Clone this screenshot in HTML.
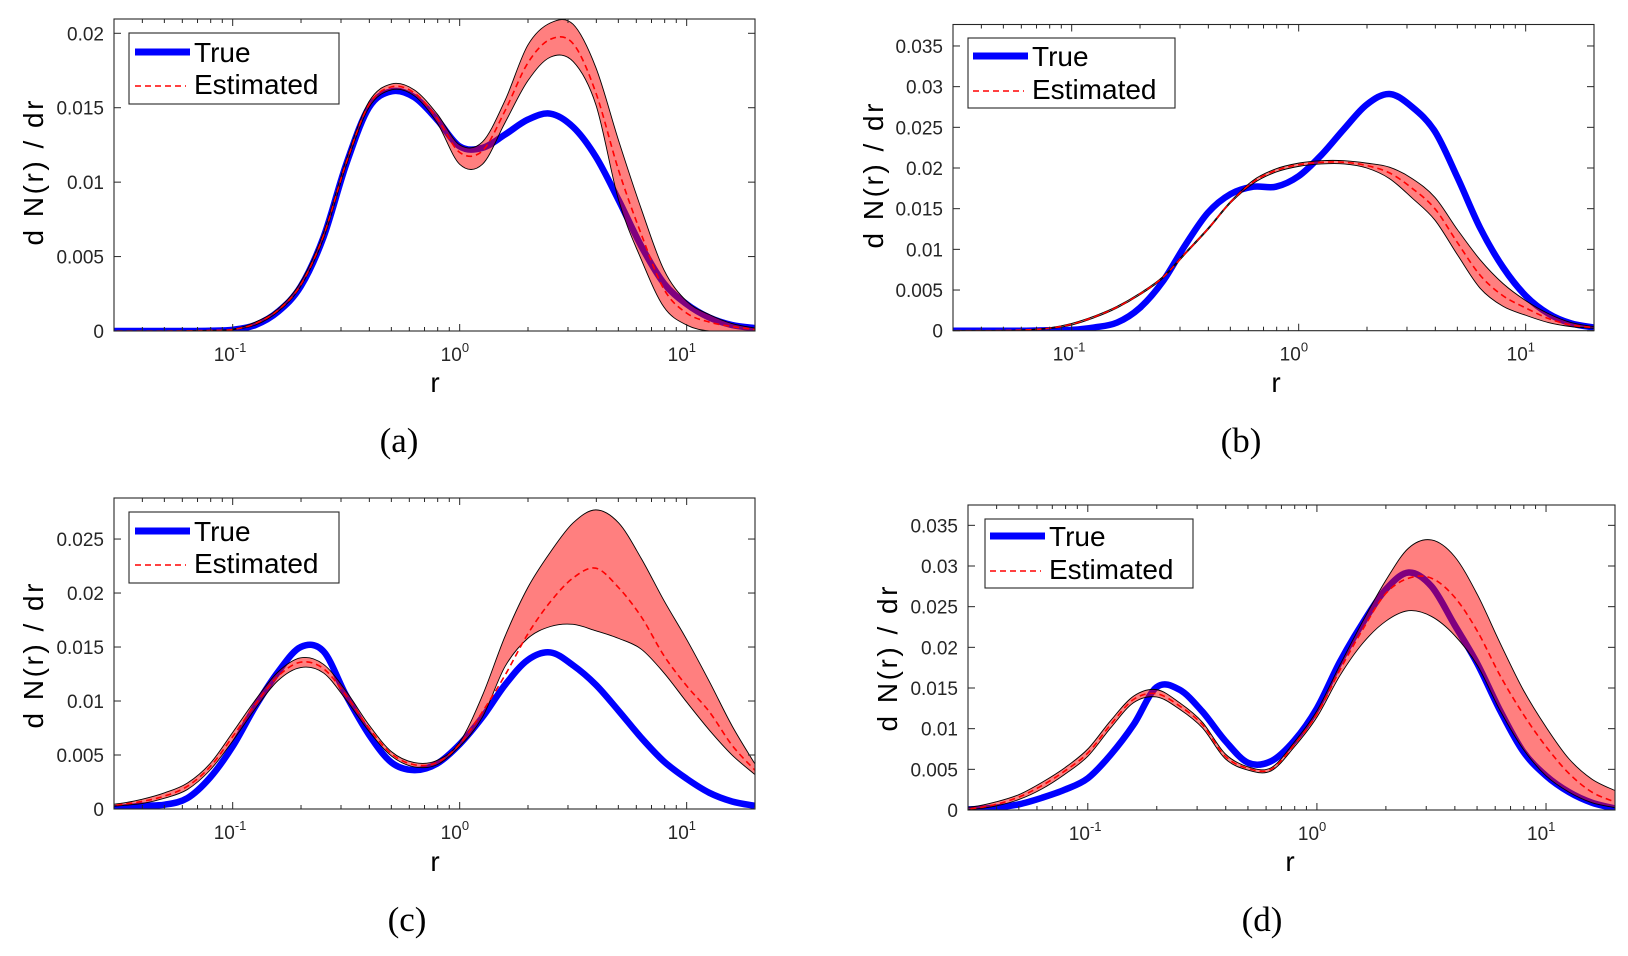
<!DOCTYPE html>
<html><head><meta charset="utf-8"><style>
html,body{margin:0;padding:0;background:#fff;}
svg{display:block;font-family:"Liberation Sans",sans-serif;}
</style></head><body>
<svg id="fig" width="1628" height="956" viewBox="0 0 1628 956" xmlns="http://www.w3.org/2000/svg"></svg>
<script>
// log10(r) sample grid shared by all panels
const logR = [-1.6,-1.5,-1.4,-1.3,-1.2,-1.1,-1.0,-0.9,-0.8,-0.7,-0.6,-0.5,-0.4,-0.3,-0.2,-0.1,0,0.1,0.2,0.3,0.4,0.5,0.6,0.7,0.8,0.9,1.0,1.1,1.2,1.3];
const xTickExp = [-1,0,1];

// panel (a)
const aTrue = [0,0,0,0,0,0.00002,0.00008,0.0004,0.0013,0.003,0.0063,0.0112,0.015,0.0161,0.0157,0.0142,0.0124,0.0123,0.0132,0.0142,0.0146,0.0137,0.0117,0.0088,0.0057,0.0032,0.0018,0.0009,0.0004,0.0002];
const aEst  = [0,0,0,0,0.00001,0.00004,0.0001,0.0005,0.0014,0.0031,0.0064,0.0113,0.0152,0.0164,0.016,0.0143,0.012,0.0121,0.0148,0.018,0.0196,0.0193,0.016,0.0108,0.0065,0.0028,0.0012,0.0006,0.0003,0.0001];
const aHi   = [0,0,0,0,0.00002,0.00005,0.00012,0.0006,0.0015,0.0033,0.0066,0.0115,0.0154,0.0166,0.0162,0.0146,0.0125,0.0127,0.0155,0.0192,0.0207,0.0206,0.0177,0.0128,0.0082,0.0041,0.002,0.0011,0.0005,0.0002];
const aLo   = [0,0,0,0,0,0.00003,0.00008,0.0004,0.0013,0.003,0.0062,0.0111,0.015,0.0162,0.0158,0.014,0.0112,0.0112,0.014,0.0168,0.0184,0.0181,0.0152,0.0088,0.0048,0.0016,0.0004,0,0,0];
const aYTicks = [0,0.005,0.01,0.015,0.02];
const aYLabels = ["0","0.005","0.01","0.015","0.02"];

// panel (b)
const bTrue = [0,0,0,0,0,0.00005,0.0001,0.0004,0.001,0.0028,0.006,0.0105,0.0145,0.0168,0.0177,0.0177,0.019,0.0216,0.0248,0.0278,0.0291,0.0275,0.0245,0.0188,0.0126,0.0078,0.0043,0.0021,0.0009,0.0004];
const bEst  = [0,0,0,0.00003,0.0001,0.0003,0.0008,0.0017,0.0029,0.0045,0.0065,0.0095,0.0125,0.0158,0.0183,0.0197,0.0204,0.0207,0.0207,0.0203,0.0194,0.0175,0.015,0.0108,0.0068,0.0043,0.0028,0.0015,0.0007,0.0004];
const bHi   = [0,0,0,0.00004,0.00012,0.00035,0.0009,0.0018,0.003,0.0046,0.0066,0.0096,0.0126,0.0159,0.0185,0.0199,0.0206,0.0209,0.0209,0.0206,0.0201,0.0187,0.0164,0.0124,0.0087,0.0058,0.0037,0.0021,0.001,0.0005];
const bLo   = [0,0,0,0.00002,0.00008,0.00025,0.0007,0.0016,0.0028,0.0044,0.0064,0.0094,0.0124,0.0157,0.0181,0.0195,0.0202,0.0205,0.0205,0.02,0.0187,0.0163,0.0136,0.0093,0.0052,0.003,0.0019,0.001,0.0005,0.0003];
const bYTicks = [0,0.005,0.01,0.015,0.02,0.025,0.03,0.035];
const bYLabels = ["0","0.005","0.01","0.015","0.02","0.025","0.03","0.035"];

// panel (c)
const cTrue = [0,0.0001,0.0003,0.0004,0.001,0.0029,0.0058,0.0095,0.0127,0.015,0.0146,0.0105,0.0069,0.0043,0.0036,0.0042,0.006,0.0085,0.0115,0.0138,0.0145,0.0133,0.0115,0.0091,0.0066,0.0044,0.0028,0.0015,0.0007,0.0003];
const cEst  = [0.0002,0.0004,0.0007,0.0012,0.0021,0.0039,0.0067,0.0097,0.0123,0.0136,0.013,0.0105,0.0075,0.0051,0.0041,0.0043,0.006,0.009,0.0124,0.0162,0.0192,0.0214,0.0223,0.0205,0.0178,0.0142,0.0114,0.009,0.0059,0.0036];
const cHi   = [0.0003,0.0005,0.0009,0.0015,0.0024,0.0042,0.0071,0.0101,0.0127,0.014,0.0134,0.0109,0.0078,0.0053,0.0043,0.0045,0.0062,0.0105,0.016,0.0205,0.0238,0.0265,0.0277,0.0265,0.0232,0.0193,0.0157,0.0118,0.0077,0.0042];
const cLo   = [0.0001,0.0003,0.0005,0.001,0.0018,0.0036,0.0063,0.0093,0.0119,0.0131,0.0126,0.0101,0.0072,0.0049,0.0039,0.0041,0.0058,0.0085,0.0132,0.0158,0.0169,0.0171,0.0165,0.0158,0.0148,0.0126,0.0099,0.0073,0.005,0.0032];
const cYTicks = [0,0.005,0.01,0.015,0.02,0.025];
const cYLabels = ["0","0.005","0.01","0.015","0.02","0.025"];

// panel (d)
const dTrue = [0,0.0001,0.0003,0.0007,0.0015,0.0025,0.0039,0.0068,0.0105,0.0151,0.0148,0.0121,0.0085,0.0058,0.006,0.0085,0.0125,0.0182,0.023,0.0271,0.0292,0.0275,0.0228,0.018,0.0122,0.0072,0.0042,0.0022,0.0009,0.0002];
const dEst  = [0.0001,0.0002,0.0007,0.0016,0.003,0.0048,0.007,0.0105,0.0136,0.0143,0.0128,0.0105,0.0066,0.0051,0.005,0.008,0.0118,0.0172,0.0222,0.0266,0.0285,0.0285,0.0262,0.022,0.0165,0.0118,0.0078,0.0045,0.0022,0.001];
const dHi   = [0.0002,0.0004,0.001,0.0019,0.0034,0.0052,0.0075,0.011,0.014,0.0148,0.0132,0.0108,0.0069,0.0053,0.0052,0.0083,0.0122,0.0178,0.0232,0.0282,0.0322,0.0332,0.0312,0.0265,0.0205,0.0148,0.0102,0.0063,0.0038,0.0024];
const dLo   = [0,0.0001,0.0005,0.0013,0.0026,0.0044,0.0066,0.0101,0.0132,0.0139,0.0124,0.0101,0.0063,0.0049,0.0048,0.0077,0.0114,0.0165,0.0205,0.0232,0.0245,0.0238,0.0215,0.0178,0.0122,0.0075,0.0042,0.0022,0.0009,0.0003];
const dYTicks = [0,0.005,0.01,0.015,0.02,0.025,0.03,0.035];
const dYLabels = ["0","0.005","0.01","0.015","0.02","0.025","0.03","0.035"];

const NS = "http://www.w3.org/2000/svg";
const svg = document.getElementById("fig");
function mk(tag, attrs, parent){
  const e = document.createElementNS(NS, tag);
  for (const k in attrs) e.setAttribute(k, attrs[k]);
  (parent||svg).appendChild(e);
  return e;
}
function curveSegs(pts){
  let d = "";
  for (let i=0;i<pts.length-1;i++){
    const p0 = pts[i-1]||pts[i], p1 = pts[i], p2 = pts[i+1], p3 = pts[i+2]||p2;
    const c1 = [p1[0]+(p2[0]-p0[0])/6, p1[1]+(p2[1]-p0[1])/6];
    const c2 = [p2[0]-(p3[0]-p1[0])/6, p2[1]-(p3[1]-p1[1])/6];
    d += " C"+c1[0].toFixed(2)+","+c1[1].toFixed(2)+" "+c2[0].toFixed(2)+","+c2[1].toFixed(2)+" "+p2[0].toFixed(2)+","+p2[1].toFixed(2);
  }
  return d;
}
function smooth(pts){
  return "M" + pts[0][0].toFixed(2) + "," + pts[0][1].toFixed(2) + curveSegs(pts);
}

const LMIN = Math.log10(0.03), LMAX = Math.log10(20);
const panels = [
  {id:"a", L:114, R:755, T:19, B:331, ymax:0.02096, tr:aTrue, es:aEst, hi:aHi, lo:aLo, yt:aYTicks, yl:aYLabels,
   leg:{x:129,y:33,w:210,h:71,b1:62,b2:94,l1:135,l2:190,tx:194}, ylab:[33,173], rlab:[435,392], cap:[399,452]},
  {id:"b", L:953, R:1594, T:24.5, B:330.7, ymax:0.03764, tr:bTrue, es:bEst, hi:bHi, lo:bLo, yt:bYTicks, yl:bYLabels,
   leg:{x:968,y:38,w:207,h:70,b1:66,b2:99,l1:973,l2:1028,tx:1032}, ylab:[873,176], rlab:[1276,392], cap:[1241,452]},
  {id:"c", L:114, R:755, T:498, B:809, ymax:0.0288, tr:cTrue, es:cEst, hi:cHi, lo:cLo, yt:cYTicks, yl:cYLabels,
   leg:{x:129,y:512,w:210,h:71,b1:541,b2:573,l1:135,l2:190,tx:194}, ylab:[33,656], rlab:[435,871], cap:[407,931]},
  {id:"d", L:968, R:1615, T:505, B:810, ymax:0.0375, tr:dTrue, es:dEst, hi:dHi, lo:dLo, yt:dYTicks, yl:dYLabels,
   leg:{x:985,y:519,w:208,h:69,b1:546,b2:579,l1:990,l2:1045,tx:1049}, ylab:[887,659], rlab:[1290,871], cap:[1262,931]}
];

panels.forEach(p=>{
  const g = mk("g", {});
  
  
  const xs = l => p.L + (l-LMIN)/(LMAX-LMIN)*(p.R-p.L);
  const ys = v => p.B - v/p.ymax*(p.B-p.T);
  const clip = mk("clipPath", {id:"clip"+p.id}, g);
  mk("rect", {x:p.L, y:p.T, width:p.R-p.L, height:p.B-p.T}, clip);
  const plot = mk("g", {"clip-path":"url(#clip"+p.id+")"}, g);

  const ptsT = logR.map((l,i)=>[xs(l), ys(p.tr[i])]);
  const ptsE = logR.map((l,i)=>[xs(l), ys(p.es[i])]);
  const ptsH = logR.map((l,i)=>[xs(l), ys(p.hi[i])]);
  const ptsL = logR.map((l,i)=>[xs(l), ys(p.lo[i])]);

  const tl = mk("path", {d:smooth(ptsT), fill:"none", stroke:"#0000ff", "stroke-width":6.5, "stroke-linejoin":"round"}, plot);
  
  

  const revL = ptsL.slice().reverse();
  const bandD = smooth(ptsH) + " L" + revL[0][0].toFixed(2)+","+revL[0][1].toFixed(2) + curveSegs(revL) + " Z";
  const band = mk("path", {d:bandD, fill:"#ff0000", "fill-opacity":0.5, stroke:"none"}, plot);
  
  
  const hl = mk("path", {d:smooth(ptsH), fill:"none", stroke:"#000", "stroke-width":0.9}, plot);
  
  
  const ll = mk("path", {d:smooth(ptsL), fill:"none", stroke:"#000", "stroke-width":0.9}, plot);
  
  
  const el = mk("path", {d:smooth(ptsE), fill:"none", stroke:"#ff0000", "stroke-width":1.6, "stroke-dasharray":"6,4"}, plot);
  
  

  const box = mk("rect", {x:p.L, y:p.T, width:p.R-p.L, height:p.B-p.T, fill:"none", stroke:"#262626", "stroke-width":1.1}, g);
  
  

  p.yt.forEach((v,i)=>{
    const y = ys(v);
    mk("line", {x1:p.L, x2:p.L+7, y1:y, y2:y, stroke:"#262626", "stroke-width":1}, g);
    mk("line", {x1:p.R-7, x2:p.R, y1:y, y2:y, stroke:"#262626", "stroke-width":1}, g);
    const t = mk("text", {x:p.L-10, y:y+7, "text-anchor":"end", "font-size":19, fill:"#262626"}, g);
    t.textContent = p.yl[i];
    
    
  });
  for (let e=-2;e<=1;e++){
    for (let m=1;m<=9;m++){
      const l = e + Math.log10(m);
      if (l<LMIN||l>LMAX) continue;
      const x = xs(l), len = m===1?7:4;
      mk("line", {x1:x, x2:x, y1:p.B, y2:p.B-len, stroke:"#262626", "stroke-width":1}, g);
      mk("line", {x1:x, x2:x, y1:p.T, y2:p.T+len, stroke:"#262626", "stroke-width":1}, g);
    }
  }
  xTickExp.forEach(e=>{
    const x = xs(e);
    const t = mk("text", {x:x-19, y:p.B+30, "font-size":19, fill:"#262626"}, g);
    
    
    const s1 = mk("tspan", {}, t); s1.textContent = "10";
    const s2 = mk("tspan", {dy:-9, "font-size":13}, t); s2.textContent = String(e);
  });

  const yl = mk("text", {x:0, y:0, transform:"translate("+(p.ylab[0]+10)+","+p.ylab[1]+") rotate(-90)", "text-anchor":"middle", "font-size":28, fill:"#000", textLength:145, lengthAdjust:"spacing"}, g);
  yl.textContent = "d N(r) / dr";
  
  
  const xl = mk("text", {x:p.rlab[0], y:p.rlab[1], "text-anchor":"middle", "font-size":28, fill:"#000"}, g);
  xl.textContent = "r";
  
  
  const cap = mk("text", {x:p.cap[0], y:p.cap[1], "text-anchor":"middle", "font-size":35, fill:"#000", "font-family":"Liberation Serif, serif"}, g);
  cap.textContent = "(" + p.id + ")";
  
  

  const lg = mk("g", {}, g);
  
  
  const L = p.leg;
  mk("rect", {x:L.x, y:L.y, width:L.w, height:L.h, fill:"#fff", stroke:"#262626", "stroke-width":1.1}, lg);
  mk("line", {x1:L.l1, x2:L.l2, y1:L.b1-10, y2:L.b1-10, stroke:"#0000ff", "stroke-width":7}, lg);
  const t1 = mk("text", {x:L.tx, y:L.b1, "font-size":28, fill:"#000"}, lg);
  t1.textContent = "True";
  
  
  mk("line", {x1:L.l1, x2:L.l2-4, y1:L.b2-8, y2:L.b2-8, stroke:"#ff0000", "stroke-width":1.6, "stroke-dasharray":"6,4"}, lg);
  const t2 = mk("text", {x:L.tx, y:L.b2, "font-size":28, fill:"#000"}, lg);
  t2.textContent = "Estimated";
  
  
});
</script>
</body></html>
